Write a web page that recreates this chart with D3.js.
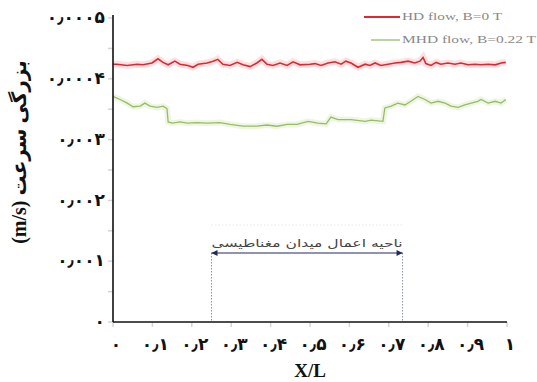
<!DOCTYPE html>
<html>
<head>
<meta charset="utf-8">
<script src="https://cdn.jsdelivr.net/npm/d3@7"></script>
<style>
  html, body { margin: 0; padding: 0; background: #fff; }
  svg { display: block; }
</style>
</head>
<body>
<div id="chart"></div>
<script>
// X/L positions and velocity (m/s)
const hdX = [0, 0.01, 0.036, 0.061, 0.076, 0.099, 0.114, 0.127, 0.140, 0.157, 0.170, 0.190, 0.203, 0.216, 0.239, 0.254, 0.266, 0.279, 0.297, 0.315, 0.330, 0.348, 0.365, 0.378, 0.391, 0.406, 0.424, 0.442, 0.457, 0.475, 0.500, 0.513, 0.528, 0.546, 0.563, 0.579, 0.591, 0.604, 0.622, 0.640, 0.652, 0.665, 0.680, 0.698, 0.716, 0.731, 0.749, 0.766, 0.779, 0.787, 0.794, 0.807, 0.820, 0.832, 0.850, 0.868, 0.883, 0.901, 0.919, 0.934, 0.952, 0.970, 0.985, 0.997];
const hdV = [4.24, 4.24, 4.22, 4.24, 4.23, 4.26, 4.33, 4.27, 4.23, 4.29, 4.24, 4.22, 4.19, 4.24, 4.26, 4.29, 4.32, 4.24, 4.22, 4.27, 4.23, 4.20, 4.26, 4.32, 4.24, 4.22, 4.26, 4.22, 4.28, 4.23, 4.24, 4.25, 4.22, 4.26, 4.28, 4.24, 4.29, 4.26, 4.19, 4.24, 4.22, 4.26, 4.22, 4.24, 4.26, 4.27, 4.29, 4.26, 4.29, 4.35, 4.25, 4.22, 4.27, 4.24, 4.26, 4.24, 4.26, 4.23, 4.24, 4.23, 4.24, 4.23, 4.26, 4.27].map(v => v * 1e-4);

const mhdX = [0, 0.018, 0.036, 0.051, 0.069, 0.081, 0.094, 0.112, 0.127, 0.137, 0.140, 0.150, 0.170, 0.188, 0.213, 0.239, 0.272, 0.297, 0.330, 0.365, 0.391, 0.416, 0.442, 0.467, 0.495, 0.520, 0.541, 0.553, 0.571, 0.604, 0.640, 0.655, 0.685, 0.690, 0.706, 0.723, 0.741, 0.756, 0.774, 0.792, 0.807, 0.825, 0.843, 0.858, 0.876, 0.893, 0.909, 0.926, 0.934, 0.952, 0.970, 0.985, 0.997];
const mhdV = [3.71, 3.66, 3.60, 3.54, 3.55, 3.60, 3.55, 3.53, 3.55, 3.51, 3.29, 3.27, 3.29, 3.27, 3.28, 3.27, 3.28, 3.25, 3.22, 3.22, 3.24, 3.22, 3.25, 3.25, 3.30, 3.27, 3.26, 3.37, 3.33, 3.33, 3.30, 3.32, 3.30, 3.52, 3.55, 3.60, 3.57, 3.63, 3.71, 3.66, 3.60, 3.63, 3.60, 3.55, 3.53, 3.57, 3.60, 3.63, 3.66, 3.60, 3.63, 3.60, 3.66].map(v => v * 1e-4);

const xTicks = [0, 0.1, 0.2, 0.3, 0.4, 0.5, 0.6, 0.7, 0.8, 0.9, 1];
const xTickLabels = ["۰", "۰٫۱", "۰٫۲", "۰٫۳", "۰٫۴", "۰٫۵", "۰٫۶", "۰٫۷", "۰٫۸", "۰٫۹", "۱"];
const yTicks = [0, 0.0001, 0.0002, 0.0003, 0.0004, 0.0005];
// the figure prints 0.0001..0.0003 with one zero fewer
const yTickLabels = ["۰", "۰٫۰۰۱", "۰٫۰۰۲", "۰٫۰۰۳", "۰٫۰۰۰۴", "۰٫۰۰۰۵"];
const seriesNames = ["HD flow, B=0 T", "MHD flow, B=0.22 T"];
const regionStart = 0.25, regionEnd = 0.735;
const regionLabel = "ناحیه اعمال میدان مغناطیسی";

const width = 537, height = 382;
const margin = { top: 18, right: 30, bottom: 60, left: 113 };
const innerW = width - margin.left - margin.right;
const innerH = height - margin.top - margin.bottom;

const svg = d3.select('#chart').append('svg')
    .attr('width', width)
    .attr('height', height);

const g = svg.append('g')
    .attr('transform', `translate(${margin.left}, ${margin.top})`);

const x = d3.scaleLinear().domain([0, 1]).range([0, innerW]);
const y = d3.scaleLinear().domain([0, 0.0005]).range([innerH, 0]);

// faint minor ticks
g.selectAll('.ytick-minor')
    .data(d3.range(0, 0.00050001, 0.00005))
    .enter().append('line')
    .attr('x1', -5).attr('x2', 0)
    .attr('y1', d => y(d)).attr('y2', d => y(d))
    .attr('stroke', '#d4d4d4').attr('stroke-width', 1.5);

g.selectAll('.xtick-minor')
    .data(xTicks)
    .enter().append('line')
    .attr('x1', d => x(d)).attr('x2', d => x(d))
    .attr('y1', innerH).attr('y2', innerH + 5)
    .attr('stroke', '#d4d4d4').attr('stroke-width', 1.5);

// magnetic region annotation
const annY = innerH - 69;
[regionStart, regionEnd].forEach(v => {
    g.append('line')
        .attr('x1', x(v)).attr('x2', x(v))
        .attr('y1', annY).attr('y2', innerH)
        .attr('stroke', '#8a90b0').attr('stroke-width', 1)
        .attr('stroke-dasharray', '1.5,1.5');
});
g.append('line')
    .attr('x1', x(regionStart)).attr('x2', x(regionEnd))
    .attr('y1', annY - 28).attr('y2', annY - 28)
    .attr('stroke', '#d0d4e6').attr('stroke-width', 1)
    .attr('stroke-dasharray', '1.5,2').attr('opacity', 0.5);

const defs = svg.append('defs');
['start', 'end'].forEach(k => {
    defs.append('marker')
        .attr('id', 'arr-' + k)
        .attr('viewBox', '0 0 10 10')
        .attr('refX', k === 'end' ? 10 : 0).attr('refY', 5)
        .attr('markerWidth', 7).attr('markerHeight', 6)
        .attr('orient', 'auto')
        .append('path')
        .attr('d', k === 'end' ? 'M0,0L10,5L0,10Z' : 'M10,0L0,5L10,10Z')
        .attr('fill', '#1f2a55');
});
g.append('line')
    .attr('x1', x(regionStart)).attr('x2', x(regionEnd))
    .attr('y1', annY).attr('y2', annY)
    .attr('stroke', '#1f2a55').attr('stroke-width', 1)
    .attr('marker-start', 'url(#arr-start)')
    .attr('marker-end', 'url(#arr-end)');
g.append('text')
    .attr('x', (x(regionStart) + x(regionEnd)) / 2)
    .attr('y', annY - 6)
    .attr('text-anchor', 'middle')
    .attr('font-family', 'DejaVu Sans')
    .attr('font-size', 11)
    .attr('fill', '#444')
    .attr('textLength', x(regionEnd) - x(regionStart))
    .attr('lengthAdjust', 'spacingAndGlyphs')
    .text(regionLabel);

// series
const line = d3.line()
    .x(d => x(d[0]))
    .y(d => y(d[1]));
const hd = hdX.map((v, i) => [v, hdV[i]]);
const mhd = mhdX.map((v, i) => [v, mhdV[i]]);

g.append('path').datum(hd).attr('d', line)
    .attr('fill', 'none').attr('stroke', '#f9c4c8').attr('stroke-width', 7).attr('opacity', 0.5);
g.append('path').datum(mhd).attr('d', line)
    .attr('fill', 'none').attr('stroke', '#e3f0d0').attr('stroke-width', 6).attr('opacity', 0.6);
g.append('path').datum(hd).attr('d', line)
    .attr('fill', 'none').attr('stroke', '#e5252e').attr('stroke-width', 1.6);
g.append('path').datum(mhd).attr('d', line)
    .attr('fill', 'none').attr('stroke', '#96bd63').attr('stroke-width', 1.3);

// axes
g.append('line')
    .attr('x1', 0).attr('x2', 0).attr('y1', -3).attr('y2', innerH)
    .attr('stroke', '#111').attr('stroke-width', 1.6);
g.append('line')
    .attr('x1', 0).attr('x2', innerW).attr('y1', innerH).attr('y2', innerH)
    .attr('stroke', '#111').attr('stroke-width', 1.6);

g.selectAll('.ylab')
    .data(yTicks)
    .enter().append('text')
    .attr('x', -8)
    .attr('y', d => y(d))
    .attr('dy', '0.3em')
    .attr('text-anchor', 'end')
    .attr('font-family', 'DejaVu Sans')
    .attr('font-weight', 'bold')
    .attr('font-size', 17)
    .attr('fill', '#111')
    .text((d, i) => yTickLabels[i]);

g.selectAll('.xlab')
    .data(xTicks)
    .enter().append('text')
    .attr('x', d => x(d) + 3)
    .attr('y', innerH + 28)
    .attr('text-anchor', 'middle')
    .attr('font-family', 'DejaVu Sans')
    .attr('font-weight', 'bold')
    .attr('font-size', 17)
    .attr('fill', '#111')
    .text((d, i) => xTickLabels[i]);

// axis titles
svg.append('text')
    .attr('x', margin.left + innerW / 2)
    .attr('y', 377)
    .attr('text-anchor', 'middle')
    .attr('font-family', 'Liberation Serif')
    .attr('font-weight', 'bold')
    .attr('font-size', 19)
    .attr('fill', '#111')
    .text('X/L');

svg.append('text')
    .attr('transform', 'translate(26, 152) rotate(-90)')
    .attr('text-anchor', 'middle')
    .attr('font-family', 'Liberation Serif, DejaVu Sans')
    .attr('font-weight', 'bold')
    .attr('font-size', 20)
    .attr('fill', '#111')
    .text('(m/s) ' + 'بزرگی سرعت');

// legend
const legend = svg.append('g');
const legColors = ['#e5252e', '#96bd63'];
const legY = [17, 40];
const legW = [100, 134];
seriesNames.forEach((name, i) => {
    legend.append('line')
        .attr('x1', i === 0 ? 364 : 371).attr('x2', 400)
        .attr('y1', legY[i]).attr('y2', legY[i])
        .attr('stroke', legColors[i]).attr('stroke-width', i === 0 ? 2 : 1.3);
    legend.append('text')
        .attr('x', 402)
        .attr('y', legY[i])
        .attr('dy', '0.33em')
        .attr('font-family', 'Liberation Serif')
        .attr('font-size', 10)
        .attr('fill', '#888')
        .attr('textLength', legW[i])
        .attr('lengthAdjust', 'spacingAndGlyphs')
        .text(name);
});
</script>
</body>
</html>
